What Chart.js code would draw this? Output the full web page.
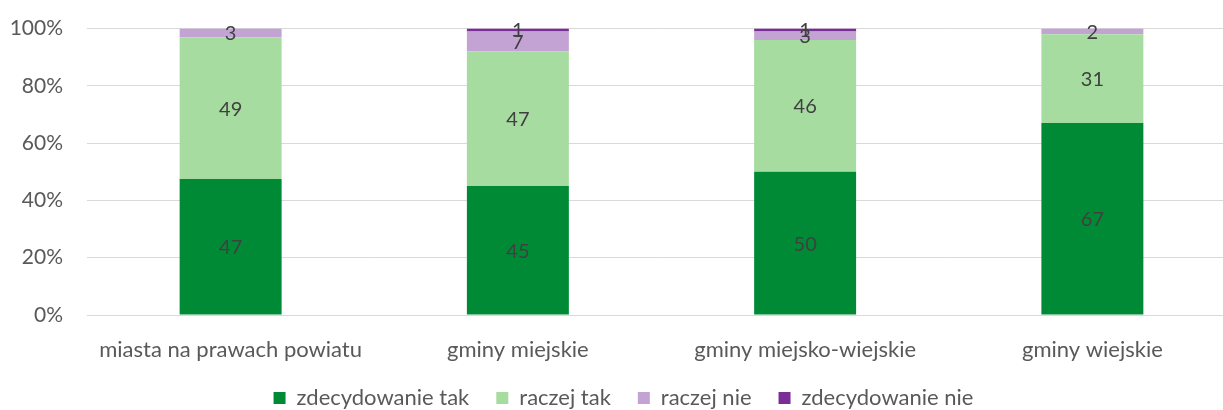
<!DOCTYPE html>
<html>
<head>
<meta charset="utf-8">
<script src="https://cdn.jsdelivr.net/npm/chart.js@4/dist/chart.umd.min.js"></script>
<style>
  html, body { margin: 0; padding: 0; background: #fff; overflow: hidden; }
  #wrap { width: 1240px; height: 427px; margin-top: -8px; position: relative; }
</style>
</head>
<body>
<div id="wrap"><canvas id="chart"></canvas></div>
<script>
// categories and answers (values in %)
const categories = ['miasta na prawach powiatu', 'gminy miejskie', 'gminy miejsko-wiejskie', 'gminy wiejskie'];
const zdecydowanieTak = [47, 45, 50, 67];
const raczejTak = [49, 47, 46, 31];
const raczejNie = [3, 7, 3, 2];
const zdecydowanieNie = [0, 1, 1, 0];
const yTicks = [0, 20, 40, 60, 80, 100];

const series = [
  { label: 'zdecydowanie tak', values: zdecydowanieTak, color: '#008A36' },
  { label: 'raczej tak', values: raczejTak, color: '#A6DCA0' },
  { label: 'raczej nie', values: raczejNie, color: '#C3A3D3' },
  { label: 'zdecydowanie nie', values: zdecydowanieNie, color: '#7B2D97' }
];

// 100% stacked: scale each bar to its total
const totals = categories.map((_, i) => series.reduce((s, d) => s + d.values[i], 0));

const FONT = 'Lato, "Open Sans", sans-serif';

// draws the raw numbers in the middle of each segment
const valueLabels = {
  id: 'valueLabels',
  afterDatasetsDraw(chart) {
    const ctx = chart.ctx;
    ctx.save();
    ctx.font = '20px ' + FONT;
    ctx.fillStyle = '#404040';
    ctx.textAlign = 'center';
    ctx.textBaseline = 'middle';
    chart.data.datasets.forEach((ds, di) => {
      const meta = chart.getDatasetMeta(di);
      meta.data.forEach((bar, i) => {
        const v = ds.rawValues[i];
        if (!v) return;
        ctx.fillText(String(v), bar.x, (bar.y + bar.base) / 2 + 1);
      });
    });
    ctx.restore();
  }
};

new Chart(document.getElementById('chart'), {
  type: 'bar',
  data: {
    labels: categories,
    datasets: series.map(s => ({
      label: s.label,
      data: s.values.map((v, i) => v / totals[i] * 100),
      rawValues: s.values,
      backgroundColor: s.color,
      borderWidth: 0,
      barPercentage: 0.355,
      categoryPercentage: 1
    }))
  },
  options: {
    responsive: true,
    maintainAspectRatio: false,
    animation: false,
    layout: { padding: { top: 4, left: 11, right: 4, bottom: 0 } },
    scales: {
      x: {
        stacked: true,
        grid: { display: false },
        border: { display: true, color: '#D9D9D9' },
        ticks: { color: '#595959', font: { family: FONT, size: 22 }, padding: 14 },
        // fixed axis box height so the plot bottom sits where the original has it
        afterFit: axis => {
          axis.height = 45;
          axis._computeLabelArea = () => undefined;
        }
      },
      y: {
        stacked: true,
        min: 0,
        max: 100,
        afterBuildTicks: axis => { axis.ticks = yTicks.map(v => ({ value: v })); },
        afterFit: axis => { axis.width = 76; },
        grid: { color: '#D9D9D9', drawTicks: false },
        border: { display: false },
        ticks: {
          color: '#595959',
          font: { family: FONT, size: 21 },
          padding: 24,
          callback: v => v + '%'
        }
      }
    },
    plugins: {
      legend: {
        position: 'bottom',
        labels: {
          color: '#595959',
          font: { family: FONT, size: 22 },
          boxWidth: 12,
          boxHeight: 12,
          padding: 27
        }
      },
      tooltip: { enabled: false }
    }
  },
  plugins: [valueLabels]
});
</script>
</body>
</html>
